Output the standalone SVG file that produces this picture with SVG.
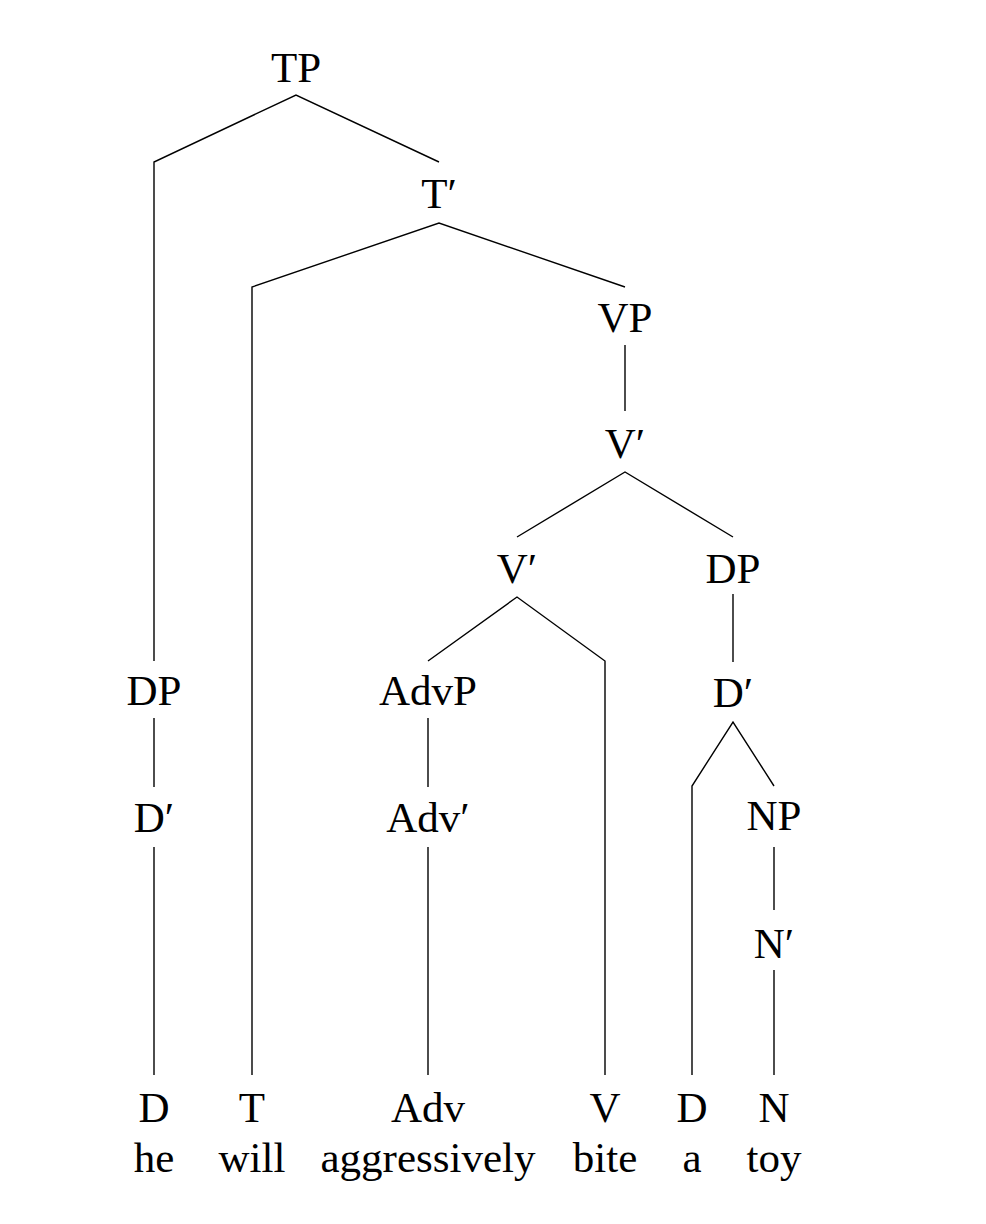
<svg xmlns="http://www.w3.org/2000/svg" width="986" height="1224" viewBox="0 0 986 1224">
<style>
text{font-family:"Liberation Serif","DejaVu Serif",serif;font-size:43px;fill:#000;text-anchor:middle}
.e{fill:none;stroke:#000;stroke-width:1.4}
</style>
<rect width="986" height="1224" fill="#fff"/>
<g id="connectors">
<polyline class="e" points="154,661 154,162 296,95 439,162"/>
<polyline class="e" points="252,1075 252,287 439,223 625,287"/>
<line class="e" x1="625" y1="345" x2="625" y2="411"/>
<polyline class="e" points="517,537 625,472 733,537"/>
<line class="e" x1="733" y1="594" x2="733" y2="662"/>
<polyline class="e" points="428,661 517,597 605,661 605,1075"/>
<polyline class="e" points="692,1075 692,786 733,722 774,786"/>
<line class="e" x1="154" y1="718" x2="154" y2="787"/>
<line class="e" x1="154" y1="847" x2="154" y2="1075"/>
<line class="e" x1="428" y1="718" x2="428" y2="787"/>
<line class="e" x1="428" y1="847" x2="428" y2="1075"/>
<line class="e" x1="774" y1="847" x2="774" y2="910"/>
<line class="e" x1="774" y1="970" x2="774" y2="1075"/>
</g>
<g id="TP"><text x="296" y="82">TP</text></g>
<g id="Tbar"><text x="439" y="208">T′</text></g>
<g id="VP"><text x="625" y="332">VP</text></g>
<g id="Vbar1"><text x="625" y="458">V′</text></g>
<g id="Vbar2"><text x="517" y="583">V′</text></g>
<g id="DP2"><text x="733" y="583">DP</text></g>
<g id="DP1"><text x="154" y="705">DP</text></g>
<g id="AdvP"><text x="428" y="705">AdvP</text></g>
<g id="Dbar2"><text x="733" y="707">D′</text></g>
<g id="Dbar1"><text x="154" y="832">D′</text></g>
<g id="Advbar"><text x="428" y="832">Adv′</text></g>
<g id="NP"><text x="774" y="830">NP</text></g>
<g id="Nbar"><text x="774" y="958">N′</text></g>
<g id="D1"><text x="154" y="1122">D</text><text x="154" y="1172">he</text></g>
<g id="T"><text x="252" y="1122">T</text><text x="252" y="1172">will</text></g>
<g id="Adv"><text x="428" y="1122">Adv</text><text x="428" y="1172">aggressively</text></g>
<g id="V"><text x="605" y="1122">V</text><text x="605" y="1172">bite</text></g>
<g id="D2"><text x="692" y="1122">D</text><text x="692" y="1172">a</text></g>
<g id="N"><text x="774" y="1122">N</text><text x="774" y="1172">toy</text></g>
</svg>
